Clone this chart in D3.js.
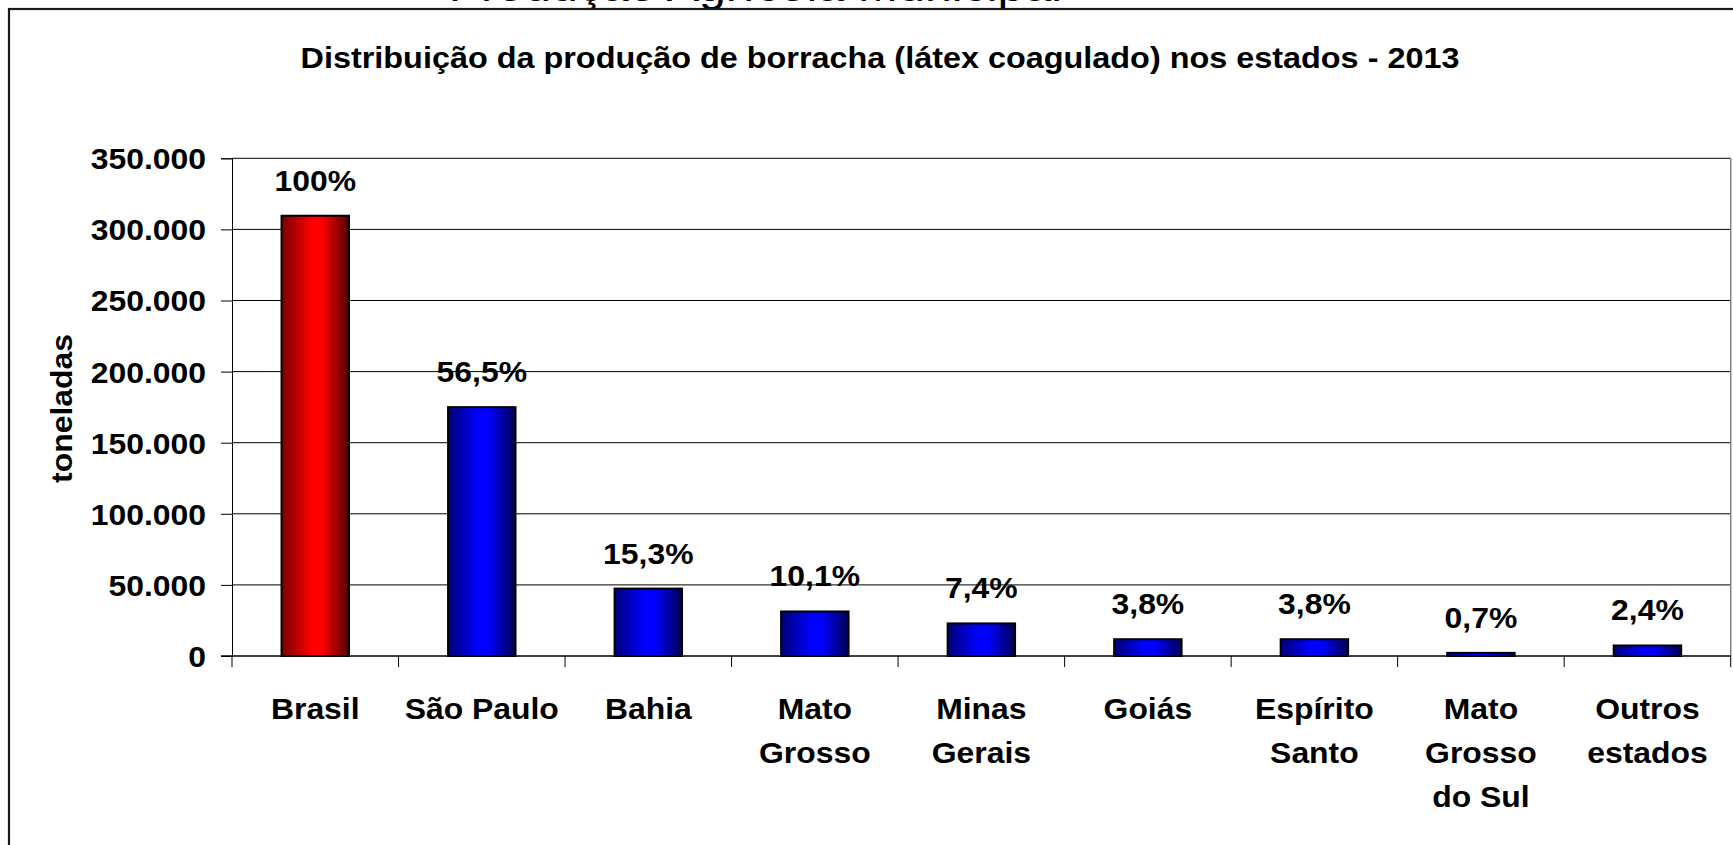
<!DOCTYPE html>
<html>
<head>
<meta charset="utf-8">
<script src="https://cdn.jsdelivr.net/npm/d3@7"></script>
<style>
    body { margin: 0; background: #fff; }
    svg { display: block; }
    text { font-family: Arial, "Liberation Sans", sans-serif; font-weight: bold; fill: #000; }
</style>
</head>
<body>
<svg id="chart"></svg>
<script>
// produção de borracha (látex coagulado) - 2013, toneladas
var categories = ["Brasil", "São Paulo", "Bahia", "Mato Grosso", "Minas Gerais", "Goiás", "Espírito Santo", "Mato Grosso do Sul", "Outros estados"]
var categoryLines = [["Brasil"], ["São Paulo"], ["Bahia"], ["Mato", "Grosso"], ["Minas", "Gerais"], ["Goiás"], ["Espírito", "Santo"], ["Mato", "Grosso", "do Sul"], ["Outros", "estados"]]
var production = [309600, 175000, 47400, 31300, 22900, 11800, 11800, 2200, 7400]
var shareLabels = ["100%", "56,5%", "15,3%", "10,1%", "7,4%", "3,8%", "3,8%", "0,7%", "2,4%"]
var yTicks = [0, 50000, 100000, 150000, 200000, 250000, 300000, 350000]

var chartTitle = "Distribuição da produção de borracha (látex coagulado) nos estados - 2013"
var yTitle = "toneladas"
var slideTitle = "Produção Agrícola Municipal"

var dimensions = {
    width: 1733,
    height: 845,
    margin: {
        top: 158.3,
        bottom: 189,
        right: 2.3,
        left: 232
    }
}
var sx = 1.1 // text in the picture is a bit wider than Arial

var svg = d3.select("#chart")
    .attr("width", dimensions.width)
    .attr("height", dimensions.height)

var defs = svg.append("defs")
function addGradient(id, dark, bright, darker) {
    var g = defs.append("linearGradient").attr("id", id)
        .attr("x1", 0).attr("x2", 1).attr("y1", 0).attr("y2", 0)
    g.append("stop").attr("offset", "0%").attr("stop-color", dark)
    g.append("stop").attr("offset", "45%").attr("stop-color", bright)
    g.append("stop").attr("offset", "60%").attr("stop-color", bright)
    g.append("stop").attr("offset", "100%").attr("stop-color", darker)
}
addGradient("redGrad", "#780000", "#ff0000", "#500000")
addGradient("blueGrad", "#000078", "#0000ff", "#000050")

var plotBottom = dimensions.height - dimensions.margin.bottom
var plotRight = dimensions.width - dimensions.margin.right

var xScale = d3.scaleBand()
    .domain(categories)
    .range([dimensions.margin.left, plotRight])
    .padding(0)

var yScale = d3.scaleLinear()
    .domain([0, 350000])
    .range([plotBottom, dimensions.margin.top])

var ptBR = d3.formatLocale({ decimal: ",", thousands: ".", grouping: [3], currency: ["R$", ""] })
var fmt = ptBR.format(",.0f")

// slide title, only its lower edge shows above the chart
svg.append("text")
    .attr("transform", "translate(448.7,1) scale(" + sx + ",1)")
    .style("font-weight", "normal")
    .style("font-size", "44px")
    .text(slideTitle)

// chart border
svg.append("rect")
    .attr("x", 9)
    .attr("y", 9)
    .attr("width", 1800)
    .attr("height", 1000)
    .attr("fill", "none")
    .attr("stroke", "#1a1a1a")
    .attr("stroke-width", 2.2)

svg.append("text")
    .attr("transform", "translate(880,68) scale(1.117,1)")
    .attr("text-anchor", "middle")
    .style("font-size", "29px")
    .text(chartTitle)

// gridlines
svg.append("g")
    .selectAll("line")
    .data(yTicks.filter(d => d > 0))
    .enter()
    .append("line")
    .attr("x1", dimensions.margin.left)
    .attr("x2", plotRight)
    .attr("y1", d => yScale(d))
    .attr("y2", d => yScale(d))
    .attr("stroke", "#000")
    .attr("stroke-width", 1)

// plot area right edge
svg.append("line")
    .attr("x1", plotRight).attr("x2", plotRight)
    .attr("y1", yScale(350000)).attr("y2", plotBottom)
    .attr("stroke", "#808080")
    .attr("stroke-width", 1.5)

var yAxisGen = d3.axisLeft(yScale)
    .tickValues(yTicks)
    .tickSize(11)
    .tickFormat(fmt)

var yAxis = svg.append("g")
    .attr("class", "y axis")
    .attr("transform", "translate(" + dimensions.margin.left + ",0)")
    .call(yAxisGen)
yAxis.select(".domain").attr("stroke", "#000")
yAxis.selectAll(".tick line").attr("stroke", "#000")
yAxis.selectAll("text")
    .attr("x", null)
    .attr("dy", null)
    .attr("transform", "translate(-26,10.4) scale(" + sx + ",1)")
    .style("font-size", "29px")
    .style("font-family", "Arial, 'Liberation Sans', sans-serif")
    .style("font-weight", "bold")

svg.append("text")
    .attr("transform", "translate(72,408.5) rotate(-90) scale(" + sx + ",1)")
    .attr("text-anchor", "middle")
    .style("font-size", "29px")
    .text(yTitle)

// bars
var barWidth = xScale.bandwidth() * 0.405
svg.append("g")
    .selectAll(".bar")
    .data(categories)
    .enter()
    .append("rect")
    .attr("class", "bar")
    .attr("x", (d, i) => xScale(d) + (xScale.bandwidth() - barWidth) / 2)
    .attr("y", (d, i) => yScale(production[i]))
    .attr("width", barWidth)
    .attr("height", (d, i) => yScale(0) - yScale(production[i]))
    .attr("fill", (d, i) => i == 0 ? "url(#redGrad)" : "url(#blueGrad)")
    .attr("stroke", "#000")
    .attr("stroke-width", 2)

// x axis line and ticks at the category borders
svg.append("line")
    .attr("x1", dimensions.margin.left - 11)
    .attr("x2", plotRight)
    .attr("y1", plotBottom)
    .attr("y2", plotBottom)
    .attr("stroke", "#000")
    .attr("stroke-width", 1.5)

var edges = categories.map(d => xScale(d)).concat([plotRight])
svg.append("g")
    .selectAll("line")
    .data(edges)
    .enter()
    .append("line")
    .attr("x1", d => d)
    .attr("x2", d => d)
    .attr("y1", plotBottom)
    .attr("y2", plotBottom + 11)
    .attr("stroke", "#000")
    .attr("stroke-width", 1)

// share labels over the bars
svg.append("g")
    .selectAll("text")
    .data(categories)
    .enter()
    .append("text")
    .attr("text-anchor", "middle")
    .attr("transform", (d, i) => "translate(" + (xScale(d) + xScale.bandwidth() / 2) + "," + (yScale(production[i]) - 25) + ") scale(" + sx + ",1)")
    .style("font-size", "29px")
    .text((d, i) => shareLabels[i])

// category labels
var xLabels = svg.append("g")
    .selectAll("g")
    .data(categories)
    .enter()
    .append("g")
    .attr("transform", d => "translate(" + (xScale(d) + xScale.bandwidth() / 2) + ",0)")

xLabels.selectAll("text")
    .data((d, i) => categoryLines[i])
    .enter()
    .append("text")
    .attr("text-anchor", "middle")
    .attr("transform", (d, j) => "translate(0," + (719 + j * 44) + ") scale(" + sx + ",1)")
    .style("font-size", "29px")
    .text(d => d)
</script>
</body>
</html>
